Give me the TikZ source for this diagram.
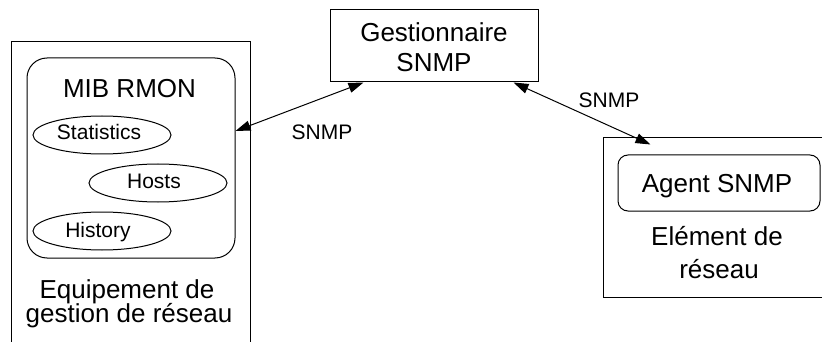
\documentclass[tikz,border=0pt]{standalone}
\usepackage{fontspec}
\setmainfont{Liberation Sans}
\usetikzlibrary{arrows.meta,calc,shapes.geometric}
\begin{document}
\begin{tikzpicture}[x=1pt,y=-1pt,
  box/.style={draw,line width=1pt,inner sep=0pt},
  big/.style={font=\fontsize{26}{30}\selectfont,inner sep=0pt,anchor=base},
  small/.style={font=\fontsize{21}{24}\selectfont,inner sep=0pt,anchor=base},
  oval/.style={draw,ellipse,line width=1pt,minimum width=138pt,minimum height=38pt,inner sep=0pt},
  link/.style={line width=1pt,{Triangle[length=15pt,width=10pt]}-{Triangle[length=15pt,width=10pt]}}
]
\useasboundingbox (0,0) rectangle (822,342);
\clip (0,0) rectangle (822,342);
% left equipment
\node[box,minimum width=239pt,minimum height=318pt] (L) at (130.5,201) {};
\node[box,rounded corners=20pt,minimum width=208pt,minimum height=200pt] (M) at (131,158) {};
\node[big] (mibt) at (129.5,98) {MIB RMON};
\node[oval] (stat) at (102,135) {};
\node[small] (statt) at (99,140) {Statistics};
\node[oval] (hosts) at (158,183) {};
\node[small] (hostst) at (154,188) {Hosts};
\node[oval] (hist) at (102,231) {};
\node[small] (histt) at (98,237) {History};
\node[big] (eq1) at (127,298) {Equipement de};
\node[big] (eq2) at (129,322) {gestion de réseau};
% manager
\node[box,minimum width=208pt,minimum height=72pt] (G) at (434,46) {};
\node[big] (g1) at (434,42) {Gestionnaire};
\node[big] (g2) at (434,72) {SNMP};
% network element
\node[box,minimum width=227pt,minimum height=159pt] (R) at (716.5,217.5) {};
\node[box,rounded corners=10pt,minimum width=202pt,minimum height=56pt] (A) at (719,183) {};
\node[big] (at) at (717,193) {Agent SNMP};
\node[big] (e1) at (717,245) {Elément de};
\node[big] (e2) at (719,278) {réseau};
% links
\draw[link] ($(M.east)+(0,-27)$) -- ($(G.south west)+(34,0)$);
\draw[link] ($(G.south east)+(-25,0)$) -- ($(R.north west)+(48,7)$);
\node[small] (l1) at (322,140) {SNMP};
\node[small] (l2) at (609,108) {SNMP};
\end{tikzpicture}
\end{document}
